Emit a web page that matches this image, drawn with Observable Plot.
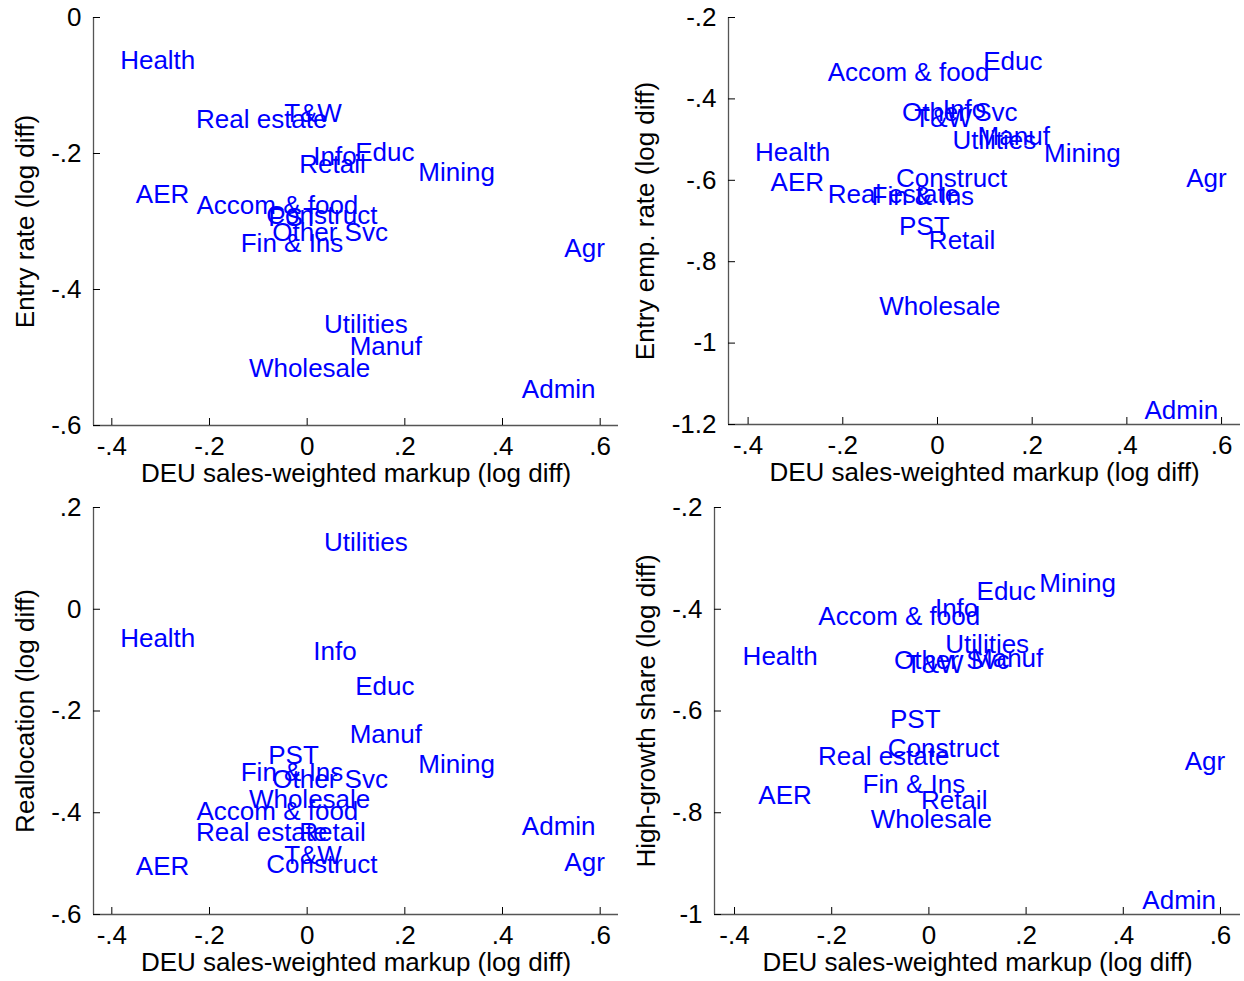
<!DOCTYPE html>
<html><head><meta charset="utf-8">
<script src="https://cdn.jsdelivr.net/npm/d3@7"></script>
<script src="https://cdn.jsdelivr.net/npm/@observablehq/plot@0.6"></script>
<style>
html,body{margin:0;padding:0;background:#fff;}
#wrap{position:relative;width:1244px;height:981px;background:#fff;}
.panel{position:absolute;}
</style></head><body><div id="wrap"></div>
<script>
const sectors = ["Health","AER","Real estate","Accom & food","Fin & Ins","PST","Wholesale","T&W","Construct","Other Svc","Retail","Info","Utilities","Educ","Manuf","Mining","Admin","Agr"];
const markup = [-0.306,-0.296,-0.093,-0.061,-0.031,-0.028,0.005,0.012,0.030,0.047,0.052,0.057,0.120,0.159,0.161,0.306,0.515,0.568];
const entryRate = [-0.064,-0.260,-0.150,-0.276,-0.333,-0.295,-0.516,-0.142,-0.292,-0.316,-0.217,-0.205,-0.452,-0.199,-0.484,-0.228,-0.548,-0.340];
const entryEmpRate = [-0.531,-0.607,-0.636,-0.336,-0.639,-0.715,-0.911,-0.449,-0.597,-0.435,-0.748,-0.427,-0.502,-0.308,-0.493,-0.534,-1.166,-0.596];
const reallocation = [-0.057,-0.506,-0.440,-0.397,-0.321,-0.287,-0.375,-0.484,-0.502,-0.334,-0.440,-0.083,0.130,-0.152,-0.247,-0.305,-0.427,-0.498];
const highGrowth = [-0.493,-0.767,-0.689,-0.414,-0.744,-0.618,-0.813,-0.509,-0.675,-0.501,-0.777,-0.398,-0.470,-0.365,-0.497,-0.349,-0.973,-0.699];

const xTicks = [-0.4,-0.2,0,0.2,0.4,0.6];
const xLabel = "DEU sales-weighted markup (log diff)";
const yTicks1 = [0,-0.2,-0.4,-0.6];
const yTicks2 = [-0.2,-0.4,-0.6,-0.8,-1,-1.2];
const yTicks3 = [0.2,0,-0.2,-0.4,-0.6];
const yTicks4 = [-0.2,-0.4,-0.6,-0.8,-1];

const fmt = d => d === 0 ? "0" : String(d).replace(/^(-?)0\./, "$1.");
const FONT = "'Liberation Sans', Arial, Helvetica, sans-serif";
const FS = 26;

const panels = [
  {y: entryRate, label: "Entry rate (log diff)", ticks: yTicks1, yDomain: [-0.6, 0], xDomain: [-0.4375, 0.6375],
   left: 0, top: 0, height: 490, mL: 93, mB: 65, tdx: -68},
  {y: entryEmpRate, label: "Entry emp. rate (log diff)", ticks: yTicks2, yDomain: [-1.2, -0.2], xDomain: [-0.4414, 0.640],
   left: 622, top: 0, height: 490, mL: 106, mB: 66, tdx: -83},
  {y: reallocation, label: "Reallocation (log diff)", ticks: yTicks3, yDomain: [-0.6, 0.2], xDomain: [-0.4375, 0.6375],
   left: 0, top: 490, height: 491, mL: 93, mB: 67, tdx: -68},
  {y: highGrowth, label: "High-growth share (log diff)", ticks: yTicks4, yDomain: [-1, -0.2], xDomain: [-0.4412, 0.6412],
   left: 622, top: 490, height: 491, mL: 92, mB: 67, tdx: -68}
];

const wrap = document.getElementById("wrap");
for (const p of panels) {
  const data = sectors.map((s, i) => ({sector: s, x: markup[i], y: p.y[i]}));
  const chart = Plot.plot({
    width: 622, height: p.height,
    marginLeft: p.mL, marginRight: 4, marginTop: 17, marginBottom: p.mB,
    style: {fontFamily: FONT, fontSize: FS + "px", background: "#fff", color: "#000", overflow: "visible"},
    x: {domain: p.xDomain, ticks: xTicks},
    y: {domain: p.yDomain, ticks: p.ticks},
    marks: [
      Plot.ruleY([p.yDomain[0]], {stroke: "#555", strokeWidth: 1.3}),
      Plot.ruleX([p.xDomain[0]], {stroke: "#555", strokeWidth: 1.3}),
      Plot.axisX(xTicks, {tickSize: -7, tickPadding: 18, tickFormat: fmt, label: null, fontSize: FS, stroke: "#000"}),
      Plot.axisY(p.ticks, {tickSize: -7, tickPadding: 19, tickFormat: fmt, label: null, fontSize: FS, stroke: "#000"}),
      Plot.text([xLabel], {frameAnchor: "bottom", dy: 48, textAnchor: "middle", lineAnchor: "middle", fontSize: FS, fill: "#000"}),
      Plot.text([p.label], {frameAnchor: "left", dx: p.tdx, rotate: -90, textAnchor: "middle", lineAnchor: "middle", fontSize: FS, fill: "#000"}),
      Plot.text(data, {x: "x", y: "y", text: "sector", fill: "#0000ff", fontSize: FS, textAnchor: "middle", lineAnchor: "middle"})
    ]
  });
  const div = document.createElement("div");
  div.className = "panel";
  div.style.left = p.left + "px";
  div.style.top = p.top + "px";
  div.appendChild(chart);
  wrap.appendChild(div);
}
</script>
</body></html>
